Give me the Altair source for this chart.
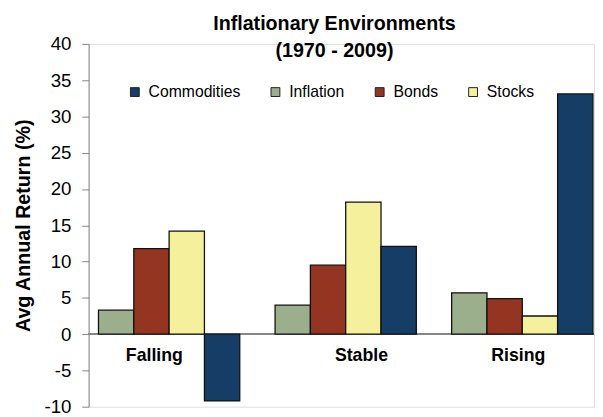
import altair as alt
import pandas as pd

categories = ["Falling", "Stable", "Rising"]
series = ["Inflation", "Bonds", "Stocks", "Commodities"]
legend_order = ["Commodities", "Inflation", "Bonds", "Stocks"]
inflation = [3.3, 4.0, 5.7]
bonds = [11.8, 9.5, 4.9]
stocks = [14.2, 18.2, 2.5]
commodities = [-9.2, 12.1, 33.1]
y_ticks = [-10, -5, 0, 5, 10, 15, 20, 25, 30, 35, 40]
series_colors = ["#153D66", "#9CAF8C", "#943522", "#F4F09C"]  # in legend_order

FONT = "Liberation Sans"

values = {"Inflation": inflation, "Bonds": bonds, "Stocks": stocks, "Commodities": commodities}
rows = []
for s in series:
    for c, v in zip(categories, values[s]):
        rows.append({"category": c, "series": s, "value": v})
df = pd.DataFrame(rows)
labels_df = pd.DataFrame({"category": categories, "zero": [0] * len(categories)})

x_scale = alt.Scale(domain=categories, paddingInner=0.2, paddingOuter=0.031, align=0.9)
y_scale = alt.Scale(domain=[-10, 40], nice=False, zero=False)

y_axis = alt.Axis(
    title="Avg Annual Return (%)",
    values=y_ticks,
    labelExpr="'' + datum.value",
    labelOverlap=False,
    labelBound=False,
    grid=False,
    domainColor="#868686",
    tickColor="#868686",
    tickSize=7,
    labelPadding=11,
    labelFont=FONT,
    labelFontSize=19,
    labelColor="#000000",
    titleFont=FONT,
    titleFontSize=20,
    titleFontWeight="bold",
    titleColor="#000000",
    titlePadding=11,
)

zero_line = alt.Chart(df).mark_rule(color="#868686", strokeWidth=1).encode(
    y=alt.Y(datum=0, scale=y_scale, axis=y_axis)
)

bars = alt.Chart(df).mark_bar(stroke="#111111", strokeWidth=1.3).encode(
    x=alt.X("category:N", scale=x_scale, sort=categories, axis=None),
    xOffset=alt.XOffset("series:N", sort=series, scale=alt.Scale(paddingInner=0, paddingOuter=0)),
    y=alt.Y("value:Q", scale=y_scale, axis=y_axis),
    color=alt.Color(
        "series:N",
        scale=alt.Scale(domain=legend_order, range=series_colors),
        legend=alt.Legend(
            title=None,
            orient="none",
            legendX=39,
            legendY=41,
            direction="horizontal",
            columns=4,
            columnPadding=27,
            symbolType="square",
            symbolSize=81,
            symbolStrokeColor="#222222",
            symbolStrokeWidth=1,
            symbolOpacity=1,
            labelFont=FONT,
            labelFontSize=16,
            labelColor="#000000",
            labelOffset=6,
            padding=0,
        ),
    ),
)

label_dx = {"Falling": -15, "Stable": 16, "Rising": -4}
label_layers = []
for c in categories:
    label_layers.append(
        alt.Chart(labels_df)
        .transform_filter(alt.datum.category == c)
        .mark_text(font=FONT, fontSize=18, fontWeight="bold", color="#000000",
                   baseline="alphabetic", dy=27, dx=label_dx[c])
        .encode(
            x=alt.X("category:N", scale=x_scale, sort=categories, axis=None),
            y=alt.Y("zero:Q", scale=y_scale, axis=y_axis),
            text="category:N",
        )
    )

chart = (
    alt.layer(zero_line, bars, *label_layers)
    .properties(
        width=514,
        height=369,
        padding={"left": 5, "top": 2, "right": 0, "bottom": 0},
        title=alt.TitleParams(
            text=["Inflationary Environments", "(1970 - 2009)"],
            font=FONT,
            fontSize=20,
            fontWeight="bold",
            color="#000000",
            anchor="middle",
            dx=-7,
            offset=-26,
            lineHeight=27.5,
        ),
    )
    .configure_view(stroke=None)
    .configure(background="#ffffff")
)

chart.save("out.html", embed_options={"renderer": "svg", "actions": False})
